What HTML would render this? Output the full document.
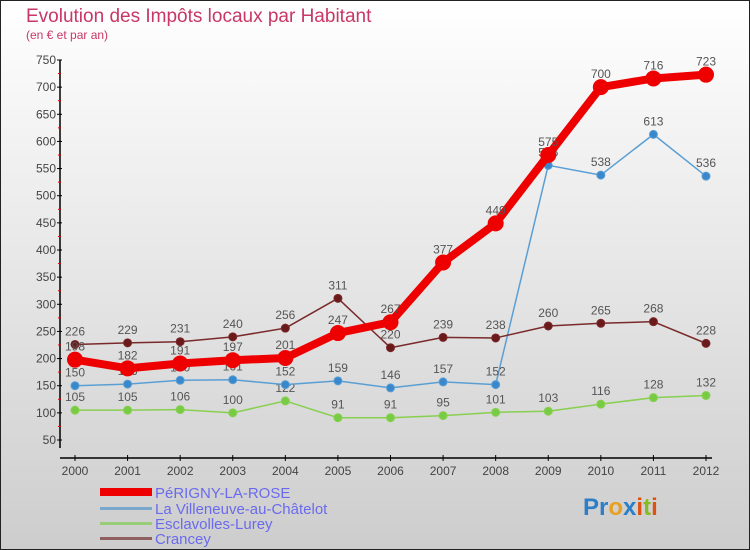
<!DOCTYPE html>
<html><head><meta charset="utf-8"><style>
body{margin:0;}
svg{display:block;font-family:"Liberation Sans",sans-serif;}
</style></head><body>
<svg id="c" width="750" height="550" viewBox="0 0 750 550">
<defs><linearGradient id="bg" x1="0" y1="0" x2="0" y2="1"><stop offset="0" stop-color="#ffffff"/><stop offset="1" stop-color="#cdcdcd"/></linearGradient></defs>
<rect x="0.5" y="0.5" width="749" height="549" fill="url(#bg)" stroke="#222"/>
<text x="26" y="22" font-size="19" fill="#c83765">Evolution des Impôts locaux par Habitant</text>
<text x="26" y="39" font-size="12" fill="#c83765">(en € et par an)</text>
<g id="axes"></g><g id="series"></g>
<g>
<rect x="100" y="488" width="52" height="8" fill="#ee0000"/>
<text x="155" y="498" font-size="15" fill="#6a6aee">PéRIGNY-LA-ROSE</text>
<rect x="100" y="507" width="52" height="3" fill="#7aa8cc"/>
<text x="155" y="514" font-size="15" fill="#6a6aee">La Villeneuve-au-Châtelot</text>
<rect x="100" y="522" width="52" height="3" fill="#99cc77"/>
<text x="155" y="529" font-size="15" fill="#6a6aee">Esclavolles-Lurey</text>
<rect x="100" y="537" width="52" height="3" fill="#906060"/>
<text x="155" y="544" font-size="15" fill="#6a6aee">Crancey</text>
</g>
<text x="583" y="515" font-size="24" font-weight="bold"><tspan fill="#2a7fc8">Pr</tspan><tspan fill="#e8a020">o</tspan><tspan fill="#2a7fc8">x</tspan><tspan fill="#e05010">i</tspan><tspan fill="#88bb22">t</tspan><tspan fill="#e05010">i</tspan></text>
</svg>
<script>
const years=[2000,2001,2002,2003,2004,2005,2006,2007,2008,2009,2010,2011,2012];
const yTicks=[50,100,150,200,250,300,350,400,450,500,550,600,650,700,750];
const perigny=[198,182,191,197,201,247,267,377,449,575,700,716,723];
const villeneuve=[150,153,160,161,152,159,146,157,152,556,538,613,536];
const esclavolles=[105,105,106,100,122,91,91,95,101,103,116,128,132];
const crancey=[226,229,231,240,256,311,220,239,238,260,265,268,228];
const NS='http://www.w3.org/2000/svg';
const x0=75,x1=706,yTop=60,yBot=440,vMin=50,vMax=750;
function sx(i){return x0+(x1-x0)*i/(years.length-1);}
function sy(v){return yBot-(v-vMin)*(yBot-yTop)/(vMax-vMin);}
function mk(tag,attrs,parent){const e=document.createElementNS(NS,tag);for(const k in attrs)e.setAttribute(k,attrs[k]);parent.appendChild(e);return e;}
const ax=document.getElementById('axes');
let l=mk('line',{x1:60,y1:yTop,x2:60,y2:yBot+8,stroke:'#000','stroke-width':1.5},ax);


l=mk('line',{x1:60,y1:458,x2:712,y2:458,stroke:'#000','stroke-width':1.5},ax);


yTicks.forEach(v=>{
  const y=sy(v);
  mk('line',{x1:57,y1:y,x2:62,y2:y,stroke:'#000'},ax);
  if(v<vMax){mk('line',{x1:58,y1:sy(v+25),x2:61,y2:sy(v+25),stroke:'#e00000'},ax);}
  const t=mk('text',{x:56,y:y+4,'font-size':12,'text-anchor':'end',fill:'#444'},ax);
  t.textContent=v;
  
  
});
years.forEach((yr,i)=>{
  const x=sx(i);
  mk('line',{x1:x,y1:455,x2:x,y2:461,stroke:'#000'},ax);
  const t=mk('text',{x:x,y:475,'font-size':12,'text-anchor':'middle',fill:'#444'},ax);
  t.textContent=yr;
  
  
});
const sg=document.getElementById('series');
function draw(vals,color,dot,w,r,name){
  const g=mk('g',{},sg);
  
  
  mk('polyline',{points:vals.map((v,i)=>sx(i)+','+sy(v)).join(' '),fill:'none',stroke:color,'stroke-width':w,'stroke-linejoin':'round'},g);
  vals.forEach((v,i)=>{
    const c=mk('circle',{cx:sx(i),cy:sy(v),r:r,fill:dot,stroke:color,'stroke-width':1},g);
    
    
    const t=mk('text',{x:sx(i),y:sy(v)-9,'font-size':12,'text-anchor':'middle',fill:'#555'},g);
    t.textContent=v;
    
    
  });
}
draw(esclavolles,'#88d050','#77cc44',1.5,4,'esclavolles');
draw(villeneuve,'#5a9fd4','#3a88cc',1.5,4,'villeneuve');
draw(crancey,'#7a2a2a','#6a1a1a',1.5,4,'crancey');
draw(perigny,'#ee0000','#ee0000',8,7.5,'perigny');
</script>
</body></html>
